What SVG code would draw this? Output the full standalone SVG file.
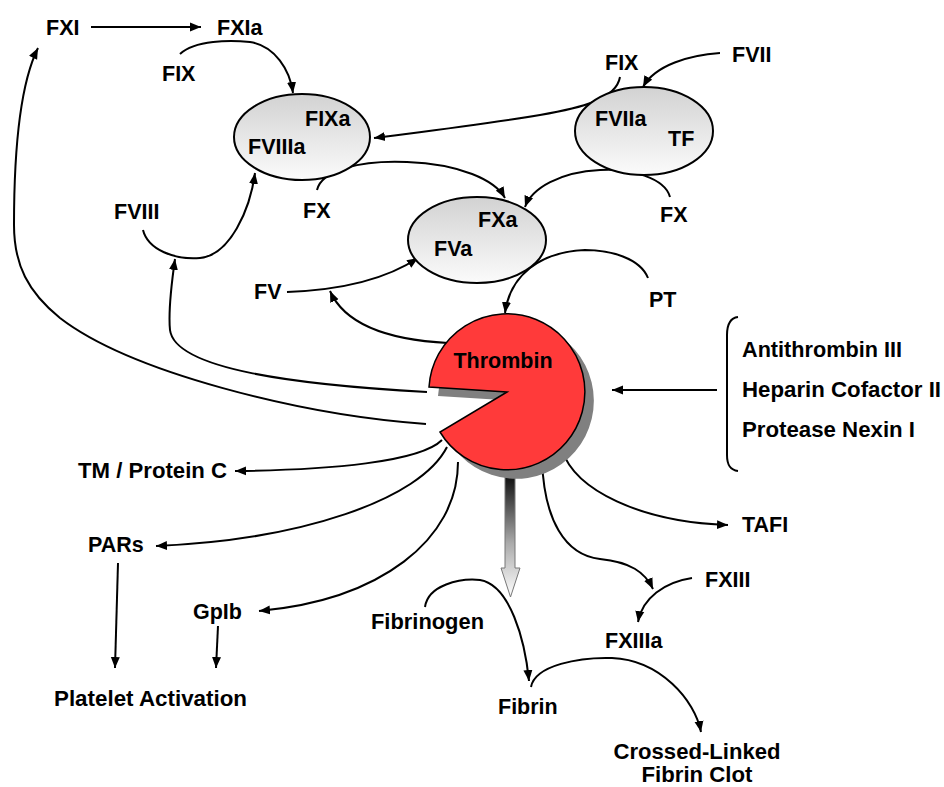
<svg xmlns="http://www.w3.org/2000/svg" width="944" height="787" viewBox="0 0 944 787">
<style>
text{font-family:"Liberation Sans",Arial,sans-serif;font-weight:bold;font-size:21.5px;fill:#000}
.c{fill:none;stroke:#000;stroke-width:2}
.a{marker-end:url(#ah)}
.ell{fill:url(#eg);stroke:#000;stroke-width:2}
</style>
<defs>
<linearGradient id="eg" x1="0" y1="0" x2="0" y2="1"><stop offset="0" stop-color="#d2d2d2"/><stop offset="1" stop-color="#fbfbfb"/></linearGradient>
<linearGradient id="fg" x1="0" y1="0" x2="0" y2="1"><stop offset="0" stop-color="#111"/><stop offset="0.55" stop-color="#aaa"/><stop offset="1" stop-color="#fff"/></linearGradient>
<marker id="ah" markerUnits="userSpaceOnUse" markerWidth="12" markerHeight="10" refX="11" refY="5" orient="auto"><path d="M0,0.5 L11,5 L0,9.5 z" fill="#000"/></marker>
</defs>
<rect width="944" height="787" fill="#fff"/>

<g id="connectors">
<path class="c a" d="M91,27 L201,27"/>
<path class="c a" d="M180,54 C195,40 230,40 250,42 C275,46 290,70 293,93"/>
<path class="c a" d="M620,77 C616,100 580,108 540,115 C480,125 420,132 374,138"/>
<path class="c a" d="M720,53 C690,55 655,65 643,87"/>
<path class="c a" d="M670,197 C665,178 630,168 600,170 C560,172 532,188 525,207"/>
<path class="c a" d="M317,190 C322,170 360,160 407,162 C460,164 495,180 505,198"/>
<path class="c a" d="M287,292 C340,290 385,280 418,258"/>
<path class="c a" d="M448,343 C390,340 345,325 330,291"/>
<path class="c a" d="M143,230 C148,250 175,260 200,258 C230,255 250,210 255,173"/>
<path class="c a" d="M427,392 C300,385 175,370 170,330 C168,310 172,280 175,259"/>
<path class="c a" d="M426,424 C300,415 130,372 60,318 C28,292 14,265 14,225 C14,140 22,80 38,48"/>
<path class="c a" d="M648,278 C640,258 610,250 585,250 C540,252 510,275 505,313"/>
<path class="c a" d="M717,390 L612,390"/>
<path class="c" d="M738,317 C730,318 727,325 727,335 L727,455 C727,465 730,470 738,471"/>
<path class="c a" d="M442,440 C420,462 330,470 235,471"/>
<path class="c a" d="M447,447 C420,500 300,540 156,546"/>
<path class="c a" d="M458,462 C458,540 380,600 259,611"/>
<path class="c a" d="M118,563 L115,668"/>
<path class="c a" d="M218,626 L216,668"/>
<path class="c a" d="M562,450 C575,490 640,522 728,525"/>
<path class="c a" d="M542,460 C544,520 565,555 600,559 C630,562 645,572 653,589"/>
<path class="c a" d="M692,578 C665,582 642,598 638,622"/>
<path class="c a" d="M425,607 C428,585 460,578 480,580 C510,585 525,640 529,681"/>
<path class="c a" d="M531,687 C535,665 580,657 612,658 C660,660 695,700 701,732"/>
<path d="M505,477 L515,477 L515,568 L520,568 L510.5,597 L501,568 L505,568 z" fill="url(#fg)" stroke="#777" stroke-width="1"/>
</g>

<g id="thrombin">
<path d="M516,401 L438,396 A78,78 0 1,1 449,441 Z" fill="#808080"/>
<path d="M507,392 L429,387 A78,78 0 1,1 440,432 Z" fill="#ff3a3a" stroke="#000" stroke-width="1.5"/>
<text x="503" y="368" text-anchor="middle" font-size="20.5">Thrombin</text>
</g>

<g id="complex-fixa-fviiia">
<ellipse class="ell" cx="302" cy="137" rx="68" ry="43"/>
<text x="305" y="126">FIXa</text>
<text x="248" y="154">FVIIIa</text>
</g>
<g id="complex-fviia-tf">
<ellipse class="ell" cx="644" cy="131" rx="69" ry="44"/>
<text x="595" y="126">FVIIa</text>
<text x="668" y="146">TF</text>
</g>
<g id="complex-fxa-fva">
<ellipse class="ell" cx="477" cy="240" rx="69" ry="43"/>
<text x="478" y="227">FXa</text>
<text x="434" y="256">FVa</text>
</g>

<g id="fxi"><text x="46" y="35">FXI</text></g>
<g id="fxia"><text x="217" y="35">FXIa</text></g>
<g id="fix-left"><text x="162" y="81">FIX</text></g>
<g id="fix-right"><text x="605" y="70">FIX</text></g>
<g id="fvii"><text x="732" y="62">FVII</text></g>
<g id="fx-left"><text x="303" y="218">FX</text></g>
<g id="fx-right"><text x="660" y="222">FX</text></g>
<g id="fviii"><text x="114" y="219">FVIII</text></g>
<g id="fv"><text x="254" y="299">FV</text></g>
<g id="pt"><text x="649" y="307">PT</text></g>
<g id="inhibitors">
<text x="742" y="357" textLength="160" lengthAdjust="spacingAndGlyphs">Antithrombin III</text>
<text x="742" y="397" textLength="199" lengthAdjust="spacingAndGlyphs">Heparin Cofactor II</text>
<text x="742" y="437" textLength="173" lengthAdjust="spacingAndGlyphs">Protease Nexin I</text>
</g>
<g id="tm-protein-c"><text x="78" y="478" textLength="149" lengthAdjust="spacingAndGlyphs">TM / Protein C</text></g>
<g id="pars"><text x="88" y="552">PARs</text></g>
<g id="gpib"><text x="193" y="619">GpIb</text></g>
<g id="platelet-activation"><text x="54" y="706" textLength="193" lengthAdjust="spacingAndGlyphs">Platelet Activation</text></g>
<g id="fibrinogen"><text x="371" y="629" textLength="113" lengthAdjust="spacingAndGlyphs">Fibrinogen</text></g>
<g id="fibrin"><text x="498" y="714">Fibrin</text></g>
<g id="fxiii"><text x="705" y="587">FXIII</text></g>
<g id="fxiiia"><text x="605" y="648">FXIIIa</text></g>
<g id="tafi"><text x="742" y="532">TAFI</text></g>
<g id="clot">
<text x="697" y="759" text-anchor="middle" textLength="167" lengthAdjust="spacingAndGlyphs">Crossed-Linked</text>
<text x="697" y="782" text-anchor="middle" textLength="111" lengthAdjust="spacingAndGlyphs">Fibrin Clot</text>
</g>
</svg>
